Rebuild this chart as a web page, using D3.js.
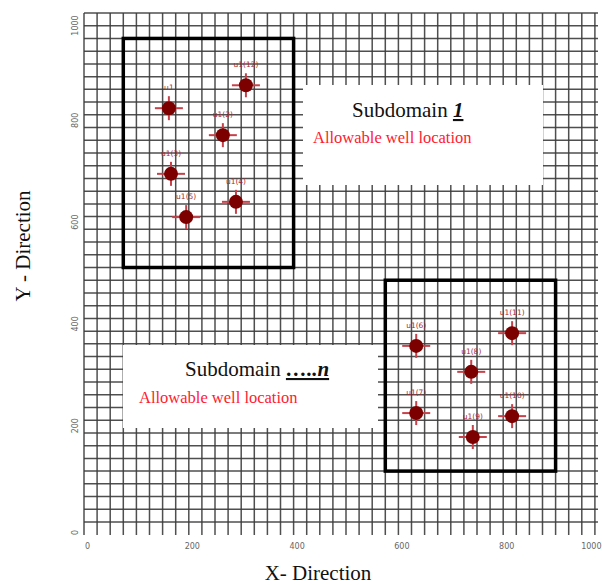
<!DOCTYPE html>
<html>
<head>
<meta charset="utf-8">
<script src="https://cdn.jsdelivr.net/npm/d3@7"></script>
<style>
  html, body { margin: 0; padding: 0; background: #fff; }
  svg { display: block; }
</style>
</head>
<body>
<svg id="chart" width="602" height="585"></svg>
<script>
// Axis ticks and grid spacing
const tickValues = [0, 200, 400, 600, 800, 1000];
const gridStep = 25;

// Subdomain rectangles (allowable well locations)
const subNames = ["Subdomain 1", "Subdomain n"];
const subX0 = [75, 575];
const subX1 = [400, 900];
const subY0 = [500, 100];
const subY1 = [950, 475];

// Well locations
const wellNames = ["u1", "u1(2)", "u1(3)", "u1(4)", "u1(5)", "u1(12)",
                   "u1(6)", "u1(7)", "u1(8)", "u1(9)", "u1(10)", "u1(11)"];
const wellX = [162, 265, 166, 290, 195, 309, 634, 634, 739, 742, 817, 817];
const wellY = [813, 760, 684, 629, 599, 858, 346, 214, 295, 167, 208, 371];

const svg = d3.select("#chart");
const W = 602, H = 585;

const x = d3.scaleLinear().domain([0, 1000]).range([84, 608]);
const y = d3.scaleLinear().domain([0, 1000]).range([522, 13]);

const plot = svg.append("g");

// Mesh grid
const gridVals = d3.range(0, 1000 + 1, gridStep);
plot.append("g").selectAll("line")
  .data(gridVals.filter(v => x(v) <= W - 2))
  .join("line")
  .attr("x1", d => x(d)).attr("x2", d => x(d))
  .attr("y1", y(1000)).attr("y2", y(0) + 13)
  .attr("stroke", "#3c3c3c").attr("stroke-width", 1.5).attr("stroke-opacity", 0.9);
plot.append("g").selectAll("line")
  .data(gridVals)
  .join("line")
  .attr("x1", x(0)).attr("x2", Math.min(x(1000), W - 4))
  .attr("y1", d => y(d)).attr("y2", d => y(d))
  .attr("stroke", "#3c3c3c").attr("stroke-width", 1.5).attr("stroke-opacity", 0.9);

// Tick labels
const xAxis = d3.axisBottom(x).tickValues(tickValues).tickSize(0).tickFormat(d3.format("d"));
const gx = svg.append("g").attr("transform", `translate(0,${y(0) + 22})`).call(xAxis);
gx.select(".domain").remove();
gx.selectAll("text")
  .attr("font-family", "DejaVu Sans, sans-serif").attr("font-size", 8)
  .attr("fill", "#666").attr("dy", "0.3em").attr("dx", 3);
// keep the last label inside the page edge
gx.selectAll(".tick").filter(d => d === 1000).select("text")
  .attr("text-anchor", "end").attr("dx", 0)
  .attr("x", (W - 1) - x(1000));

const yAxis = d3.axisLeft(y).tickValues(tickValues).tickSize(0).tickFormat(d3.format("d"));
const gy = svg.append("g").attr("transform", `translate(${x(0) - 9},0)`).call(yAxis);
gy.select(".domain").remove();
gy.selectAll("text")
  .attr("font-family", "DejaVu Sans, sans-serif").attr("font-size", 8)
  .attr("fill", "#666")
  .attr("text-anchor", "middle")
  .attr("x", 0).attr("dy", "0.35em")
  .attr("transform", d => `translate(0,${d === 1000 ? 12 : d === 0 ? 10 : 5}) rotate(-90)`);

// Subdomain outlines
svg.append("g").selectAll("rect")
  .data(subNames.map((n, i) => ({ n, x0: subX0[i], x1: subX1[i], y0: subY0[i], y1: subY1[i] })))
  .join("rect")
  .attr("x", d => x(d.x0)).attr("y", d => y(d.y1))
  .attr("width", d => x(d.x1) - x(d.x0)).attr("height", d => y(d.y0) - y(d.y1))
  .attr("fill", "none").attr("stroke", "#000").attr("stroke-width", 3.5);

// Label panels
function panel(px0, py0, px1, py1, first, emph, textX, line1Y, line2X, line2Y) {
  const g = svg.append("g");
  g.append("rect").attr("x", px0).attr("y", py0)
    .attr("width", px1 - px0).attr("height", py1 - py0).attr("fill", "#fff");
  const t = g.append("text").attr("x", textX).attr("y", line1Y)
    .attr("font-family", "Liberation Serif, serif").attr("font-size", 21).attr("fill", "#111");
  t.append("tspan").text(first + " ");
  t.append("tspan").text(emph).attr("font-weight", "bold").attr("font-style", "italic")
    .attr("text-decoration", "underline");
  g.append("text").attr("x", line2X).attr("y", line2Y)
    .attr("font-family", "Liberation Serif, serif").attr("font-size", 16.5).attr("fill", "#ff1a2e")
    .text("Allowable well location");
}
panel(303, 85, 543, 185, "Subdomain", "1", 352, 117, 313, 143);
panel(123, 345, 378, 428, "Subdomain", "…..n", 185, 376, 139, 403);

// Wells: crosshair + filled dot + name
const wells = svg.append("g").selectAll("g")
  .data(wellNames.map((n, i) => ({ n, vx: wellX[i], vy: wellY[i] })))
  .join("g")
  .attr("transform", d => `translate(${x(d.vx)},${y(d.vy)})`);
wells.append("line").attr("x1", -14).attr("x2", 14).attr("y1", 0).attr("y2", 0)
  .attr("stroke", "#c8404a").attr("stroke-width", 2);
wells.append("line").attr("x1", 0).attr("x2", 0).attr("y1", -12).attr("y2", 12)
  .attr("stroke", "#c8404a").attr("stroke-width", 2);
wells.append("circle").attr("r", 7).attr("fill", "#7d0000");
wells.append("text").attr("y", -18).attr("text-anchor", "middle")
  .attr("font-family", "DejaVu Sans, sans-serif").attr("font-size", 7.5)
  .attr("fill", "#a82a34").text(d => d.n);

// Axis titles
svg.append("text").attr("x", 318).attr("y", 580).attr("text-anchor", "middle")
  .attr("font-family", "Liberation Serif, serif").attr("font-size", 21).attr("fill", "#111")
  .text("X- Direction");
svg.append("text").attr("transform", "translate(30,246) rotate(-90)").attr("text-anchor", "middle")
  .attr("font-family", "Liberation Serif, serif").attr("font-size", 21).attr("fill", "#111")
  .text("Y - Direction");
</script>
</body>
</html>
